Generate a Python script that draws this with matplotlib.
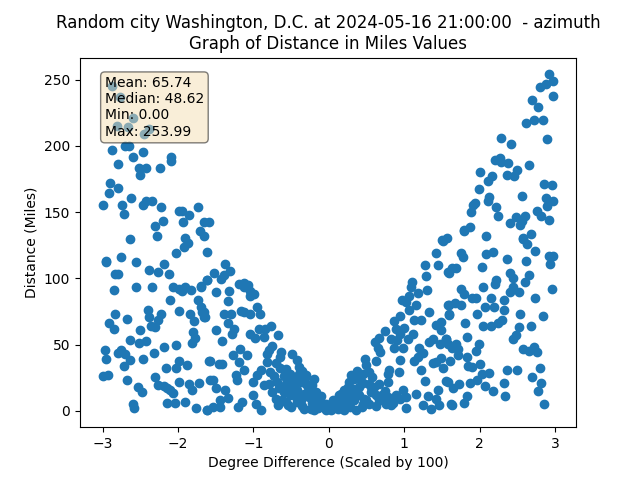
import matplotlib
matplotlib.use("Agg")
import matplotlib.pyplot as plt

title_lines = ["Random city Washington, D.C. at 2024-05-16 21:00:00  - azimuth", "Graph of Distance in Miles Values"]
stats_labels = ["Mean: 65.74", "Median: 48.62", "Min: 0.00", "Max: 253.99"]

west_high_x = [-2.87,-2.77,-2.59,-2.81,-2.66,-2.38,-2.45,-2.88,-2.70,-2.65,-2.46,-2.59,-2.09,-2.09,-2.79,-2.52,-2.42,-2.24,-2.50,-2.90,-2.91,-2.79,-2.62,-2.74,-3.0,-2.72,-2.47,-2.42,-2.34,-2.22,-1.95,-1.86,-1.74,-1.93,-2.20,-2.31,-2.28,-2.63,-1.91,-1.65,-1.71,-1.65,-1.59,-1.98]
west_high_y = [245.4,236.9,221,215.4,214,212.7,209,196.8,200,200,195.3,191.8,192,188.5,186.2,183.2,183.2,183.2,177.9,172.3,164.3,168,160.5,155.2,155.2,148.4,155.2,158.5,158.5,153.7,151.1,147.7,153.7,142.4,143.1,139.3,132.2,129.5,130.3,142.4,135.5,132.2,142.4,151.1]

west_low_x = [-1.87,-1.92,-2.03,-1.62,-2.95,-2.96,-2.75,-2.56,-2.18,-2.39,-2.27,-2.12,-2.83,-2.80,-2.85,-2.55,-2.35,-2.06,-1.99,-1.95,-1.90,-1.83,-1.70,-1.61,-2.11,-1.74,-1.70,-1.68,-1.65,-2.40,-1.98,-1.84,-2.22,-2.38,-2.26,-2.83,-2.67,-2.92,-2.85,-1.79,-2.36,-2.30,-2.50,-1.80,-2.63,-2.51,-2.42,-1.78,-1.82,-2.19,-2.02,-2.97,-2.75,-2.79,-2.70,-2.32,-2.95,-2.64,-2.47,-2.71,-1.98,-1.88,-2.02,-2.16,-1.59,-2.99,-2.93,-2.68,-2.30,-2.53,-2.48,-2.27,-2.19,-2.14,-2.10,-2.06,-1.99,-1.86,-1.82,-1.72,-1.57,-2.60,-2.58,-2.15,-2.04,-1.90,-1.76,-1.62]
west_low_y = [126.5,123.4,118.9,119.7,113.3,112.1,115.9,112.1,110.6,106,104.5,103,103,103,90.9,93.9,93.2,93.2,91.7,90.2,93.9,90.9,93.9,98.5,83.4,83.4,78.1,74.7,71,76.5,75.8,73.5,73.5,71,69,72.8,69.7,66,62.2,67.5,63.9,63.4,61.4,59.9,53.9,51.6,53.1,55.4,51.6,48.6,50.1,46.3,46.3,44,43.3,44,39.5,38.7,39.5,34.2,38,34.9,32.7,32.7,38,26.6,27.4,23.6,25.9,18.3,14.5,19.8,19.1,17.5,16,13.8,22.1,20.5,16,21.3,23.6,5.4,2.4,6.2,6.2,7,2.4,0.9]

center_west_x = [-1.37,-1.31,-1.52,-1.39,-1.43,-1.61,-1.69,-1.19,-1.13,-1.07,-1.13,-1.05,-0.99,-1.04,-1.50,-1.32,-1.33,-1.66,-1.64,-1.17,-1.13,-1.05,-0.95,-0.91,-1.39,-1.29,-1.34,-1.26,-1.28,-1.50,-1.42,-1.04,-0.98,-0.93,-0.84,-0.77,-0.86,-0.67,-1.18,-1.27,-1.08,-1.19,-1.13,-1.58,-1.46,-1.41,-1.23,-1.22,-0.75,-0.79,-0.82,-0.63,-0.64,-0.49,-0.42,-0.39,-0.82,-0.70,-0.90,-0.78,-0.64,-0.57,-0.95,-1.01,-0.51,-0.44,-0.31,-0.37,-0.22,-0.86,-0.79,-0.68,-0.57,-0.51,-0.75,-0.70,-0.67,-0.57,-0.54,-0.44,-0.33,-0.26,-0.17,-0.33,-0.24,-0.11,-0.03,0.0,-0.17,-0.37,-1.53,-1.49,-1.38,-1.34,-1.44,-1.44,-1.53,-1.62,-1.21,-1.15,-1.01,-0.97,-0.90,-0.46,-0.28,-0.15,-0.04,-0.20]
center_west_y = [110.6,105.3,103.8,102.3,99.2,98.7,94.2,95.5,96.2,94.7,93.2,90.2,87.9,87.1,89.4,90.2,82.6,74.7,71,75.8,74.7,73.5,78.1,73.5,72.8,73.5,66.7,62.2,58.4,61.4,53.1,58.4,55.4,62.2,62.2,64.4,55.8,57.3,47,42.5,42.5,36.9,31.2,38,35.7,35.7,27.4,23.6,49.3,45.8,43.3,44.5,40.7,43.3,38.2,33.1,36.9,36.2,31.2,29.3,32.7,31.9,26.9,22.1,28.1,24.4,25.1,21.8,19.3,19.3,20,21.8,20.6,16.8,14.2,9.2,4.2,6.7,4.2,10.4,13,10.4,14.2,1.7,1.7,7.9,0.4,4.2,5.4,7.9,23.6,17.5,15.5,10,7.9,2.9,2.9,0.9,2.9,6.7,11.7,4.9,0.9,19.3,18,9.2,5.4,0.4]

center_dense_x = [-0.72,-0.66,-0.60,-0.52,-0.47,-0.40,-0.35,-0.30,-0.25,-0.20,-0.62,-0.55,-0.48,-0.42,-0.35,-0.28,-0.22,-0.16,-0.10,-0.05,-0.50,-0.42,-0.30,-0.14,-0.08,-0.60,0.08,0.13,0.18,0.23,0.28,0.33,0.38,0.44,0.50,0.56,0.62,0.70,0.76,0.12,0.20,0.26,0.32,0.40,0.47,0.53,0.60,0.66,0.72,0.30,0.38,0.46,0.85,0.94,0.42,0.25]
center_dense_y = [26,17,14,12,24,28,30,20,15,24,8,22,14,7,4,14,6,11,11,2,3,16,27,2,3,26,3,12,5,10,3,13,16,3,8,14,4,12,5,7,16,14,8,18,9,20,18,10,12,27,25,28,6,9,24,18]

center_east_x = [1.27,1.29,1.58,1.10,1.09,1.30,1.19,1.07,0.97,1.02,1.16,1.07,1.33,0.95,0.87,1.13,1.22,1.00,0.89,0.74,1.12,0.94,1.05,0.82,0.67,0.61,0.65,0.68,0.87,0.98,0.91,1.20,1.25,1.18,1.13,0.94,1.22,0.48,0.62,0.49,0.37,0.54,0.80,0.93,0.78,0.58,0.34,0.27,0.45,0.78,0.67,0.56,1.28,0.32,0.16,0.74,0.99,1.45,0.40,0.62,1.16,1.02,1.31,0.89,0.78,0.27,0.05,0.16,0.34,0.54,0.67,0.82,1.02,0.36,0.20,0.03,0.12,1.25,1.36,1.46,1.42,1.62,0.27,0.45,0.74,1.49,1.42,1.60,1.58,1.49,1.38,1.33,1.55,1.47,1.58,1.49,1.38,1.52,1.55,1.42,1.50,1.42,1.52,1.45]
center_east_y = [110.1,101.7,104.5,97.2,93.2,90.9,88.7,87.1,84.1,82.3,80.3,76.5,75,72,67.5,68.5,68.5,62.9,62.2,60.7,57.9,58.4,54.6,54.6,55.4,52,47.8,44.5,47.8,47.8,53.3,47.8,43.7,40.7,37.7,38.2,31.2,39.5,37.7,34.4,30.1,29.3,31.2,29.7,28.1,25.6,24.4,21.8,21,22.1,20.6,18,22.8,16.8,13,15,16,15.5,11.7,11.7,12.5,10.4,11,11.7,10.4,10.4,7.9,6.7,7.9,5.4,7.9,4.2,2.4,0.4,0.4,0.4,1.7,4.2,1.7,4.2,9.2,4.9,5.4,5.4,6.7,67.2,64.7,72.2,79.8,60.9,54.6,52,54.6,50.3,50.8,40.2,36.2,32.7,22.5,36.9,129,119,128,110]

east_low_x = [2.08,2.68,2.58,2.63,2.74,1.79,1.57,1.76,1.78,2.09,2.18,2.36,2.61,2.92,2.97,2.94,2.03,1.69,1.64,1.59,2.41,2.45,2.65,2.60,2.22,2.21,2.05,1.75,1.79,1.90,1.95,2.15,2.44,2.40,2.52,2.96,2.73,2.33,2.32,2.19,2.07,1.97,2.54,2.84,1.67,1.75,1.60,1.59,1.81,2.30,2.24,2.15,2.04,2.52,2.68,2.48,2.44,1.84,1.99,1.95,1.69,1.71,1.64,1.56,1.72,1.83,1.61,2.57,2.65,2.72,2.76,2.01,1.85,1.90,2.37,2.49,2.80,2.69,2.13,2.03,1.96,1.87,1.73,1.65,1.58,2.07,2.32,2.82,2.18,2.77,2.34,1.83,1.80,1.64,2.86]
east_low_y = [132,133.3,129.5,125.7,120.7,135.8,130.3,118.9,116.3,118.2,119.7,114.4,112.9,116.9,116.9,110.6,108.3,107.6,107.6,104.2,103.8,100,102.3,97,98.7,95.5,93.2,92.4,87.9,84.9,84.9,85.6,93.2,89.4,89.4,92.4,84.9,83.4,76.5,78.1,78.1,73.5,72.8,72,81.8,79.6,79.6,73.5,66.7,69,66,64.4,64.4,63.7,64.4,57.6,54.6,56.1,50.8,45.5,50.8,47,47.8,54.6,42.5,41,38,47,45.5,48.6,44.8,35.7,34.2,33.5,31.2,31.2,32.7,25.9,28.9,28.1,23.6,21.3,20.6,17.5,22.1,19.1,21.3,21.3,15.3,15.3,11.5,11.5,6.2,4.7,5.4]

east_high_x = [2.92,2.97,2.88,2.80,2.98,2.70,2.78,2.72,2.84,2.62,2.89,2.28,2.42,2.20,2.27,2.28,2.38,2.66,2.50,2.46,2.36,2.00,2.16,2.11,1.99,2.85,2.96,2.56,2.12,2.11,2.88,2.98,2.90,1.94,1.91,2.22,1.88,2.25,2.76,2.81,2.92,2.60,2.48,2.56,2.40,2.54,1.87,1.79,2.58]
east_high_y = [254,249,247,244.5,237.9,234.6,229.3,219.5,219.5,217.2,205.1,205.9,201.4,189.3,190.8,187.7,187,185.5,181.7,177.2,177.9,180.2,177.1,173.4,167.3,171.1,170.3,162,161.5,158.2,160.5,158.2,154.5,156.7,155.2,153.7,149.9,146.9,150.7,146.9,143.9,146.9,146.1,143.1,141.6,140.1,138.6,136.3,130.3]

degree_diff = west_high_x + west_low_x + center_west_x + center_dense_x + center_east_x + east_low_x + east_high_x
distance_miles = west_high_y + west_low_y + center_west_y + center_dense_y + center_east_y + east_low_y + east_high_y

fig, ax = plt.subplots(figsize=(6.4, 4.8), dpi=100)
ax.scatter(degree_diff, distance_miles)
ax.set_title("\n".join(title_lines))
ax.set_xlabel("Degree Difference (Scaled by 100)")
ax.set_ylabel("Distance (Miles)")
ax.text(0.05, 0.95, "\n".join(stats_labels), transform=ax.transAxes, fontsize=10,
        verticalalignment="top", bbox=dict(boxstyle="round", facecolor="wheat", alpha=0.5))
fig.savefig("out.png", dpi=100)
